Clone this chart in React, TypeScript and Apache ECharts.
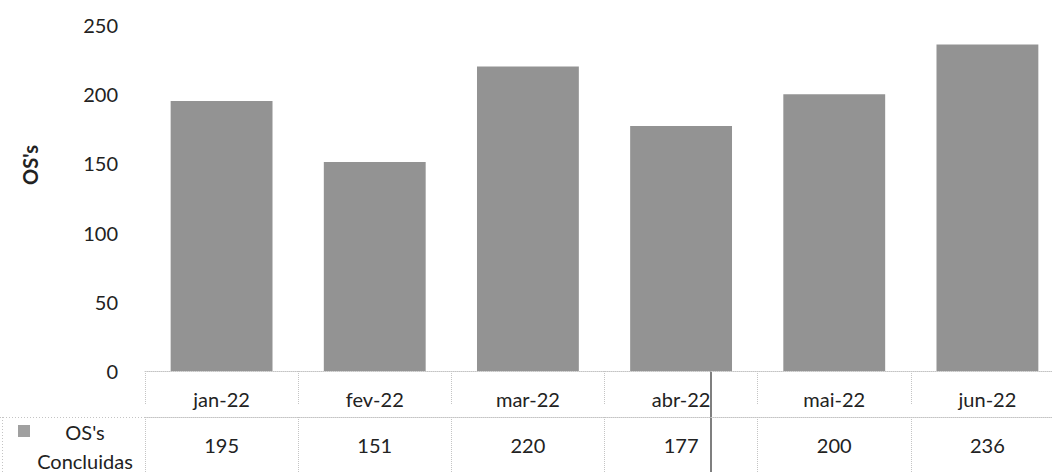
import React, { useEffect, useRef } from "react";
import * as echarts from "echarts";

const categories = ["jan-22", "fev-22", "mar-22", "abr-22", "mai-22", "jun-22"];
const values = [195, 151, 220, 177, 200, 236];
const seriesName = "OS's Concluidas";
const yTicks = { min: 0, max: 250, interval: 50 };

const FONT = "Lato";
const TEXT = "#222222";
const GRIDLINE = "#c4c4c4";
const BAR = "#939393";

export default function App() {
  const ref = useRef<HTMLDivElement>(null);
  useEffect(() => {
    if (!ref.current) return;
    const chart = echarts.init(ref.current, undefined, { renderer: "svg" });
    chart.setOption({
      animation: false,
      backgroundColor: "#ffffff",
      grid: { left: 145, width: 919, top: 25, bottom: 101, containLabel: false },
      xAxis: [
        {
          type: "category",
          data: categories,
          position: "bottom",
          offset: 12,
          axisLine: { show: true, lineStyle: { color: GRIDLINE, type: "dotted", width: 1 } },
          axisTick: { show: true, length: 34, lineStyle: { color: GRIDLINE, type: "dotted", width: 1 } },
          axisLabel: { margin: 6, color: TEXT, fontFamily: FONT, fontSize: 20 },
        },
        {
          type: "category",
          data: categories,
          position: "bottom",
          offset: 46,
          axisLine: { show: true, lineStyle: { color: GRIDLINE, type: "dotted", width: 1 } },
          axisTick: { show: true, length: 70, lineStyle: { color: GRIDLINE, type: "dotted", width: 1 } },
          axisLabel: {
            margin: 18,
            color: TEXT,
            fontFamily: FONT,
            fontSize: 20,
            formatter: (_v: string, i: number) => String(values[i]),
          },
        },
      ],
      yAxis: {
        type: "value",
        min: yTicks.min,
        max: yTicks.max,
        interval: yTicks.interval,
        axisLine: { show: false },
        axisTick: { show: false },
        splitLine: { show: false },
        axisLabel: { margin: 27, color: TEXT, fontFamily: FONT, fontSize: 20 },
      },
      series: [
        {
          type: "bar",
          name: seriesName,
          xAxisIndex: 0,
          data: values,
          barCategoryGap: "33.5%",
          itemStyle: { color: BAR },
        },
      ],
      graphic: [
        {
          type: "text",
          x: 30,
          y: 165,
          rotation: Math.PI / 2,
          style: {
            text: "OS's",
            fill: TEXT,
            font: `bold 20px ${FONT}`,
            textAlign: "center",
            textVerticalAlign: "middle",
          },
        },
        {
          type: "line",
          shape: { x1: 0, y1: 417.5, x2: 145, y2: 417.5 },
          style: { stroke: GRIDLINE, lineDash: [1, 2], lineWidth: 1 },
        },
        {
          type: "line",
          shape: { x1: 2.5, y1: 417, x2: 2.5, y2: 472 },
          style: { stroke: GRIDLINE, lineDash: [1, 2], lineWidth: 1 },
        },
        {
          type: "rect",
          shape: { x: 18, y: 425, width: 12, height: 12 },
          style: { fill: "#a0a0a0" },
        },
        {
          type: "text",
          x: 85,
          y: 446,
          style: {
            text: "OS's\nConcluidas",
            fill: TEXT,
            font: `20px ${FONT}`,
            lineHeight: 29,
            textAlign: "center",
            textVerticalAlign: "middle",
          },
        },
        {
          type: "line",
          shape: { x1: 711, y1: 210, x2: 711, y2: 472 },
          style: { stroke: "#555555", lineWidth: 1.5 },
        },
      ],
    });
    return () => chart.dispose();
  }, []);
  return (
    <div
      style={{ position: "fixed", left: 0, top: 0, width: 1052, height: 472, overflow: "hidden", background: "#fff" }}
    >
      <div ref={ref} style={{ width: 1066, height: 472 }} />
    </div>
  );
}
